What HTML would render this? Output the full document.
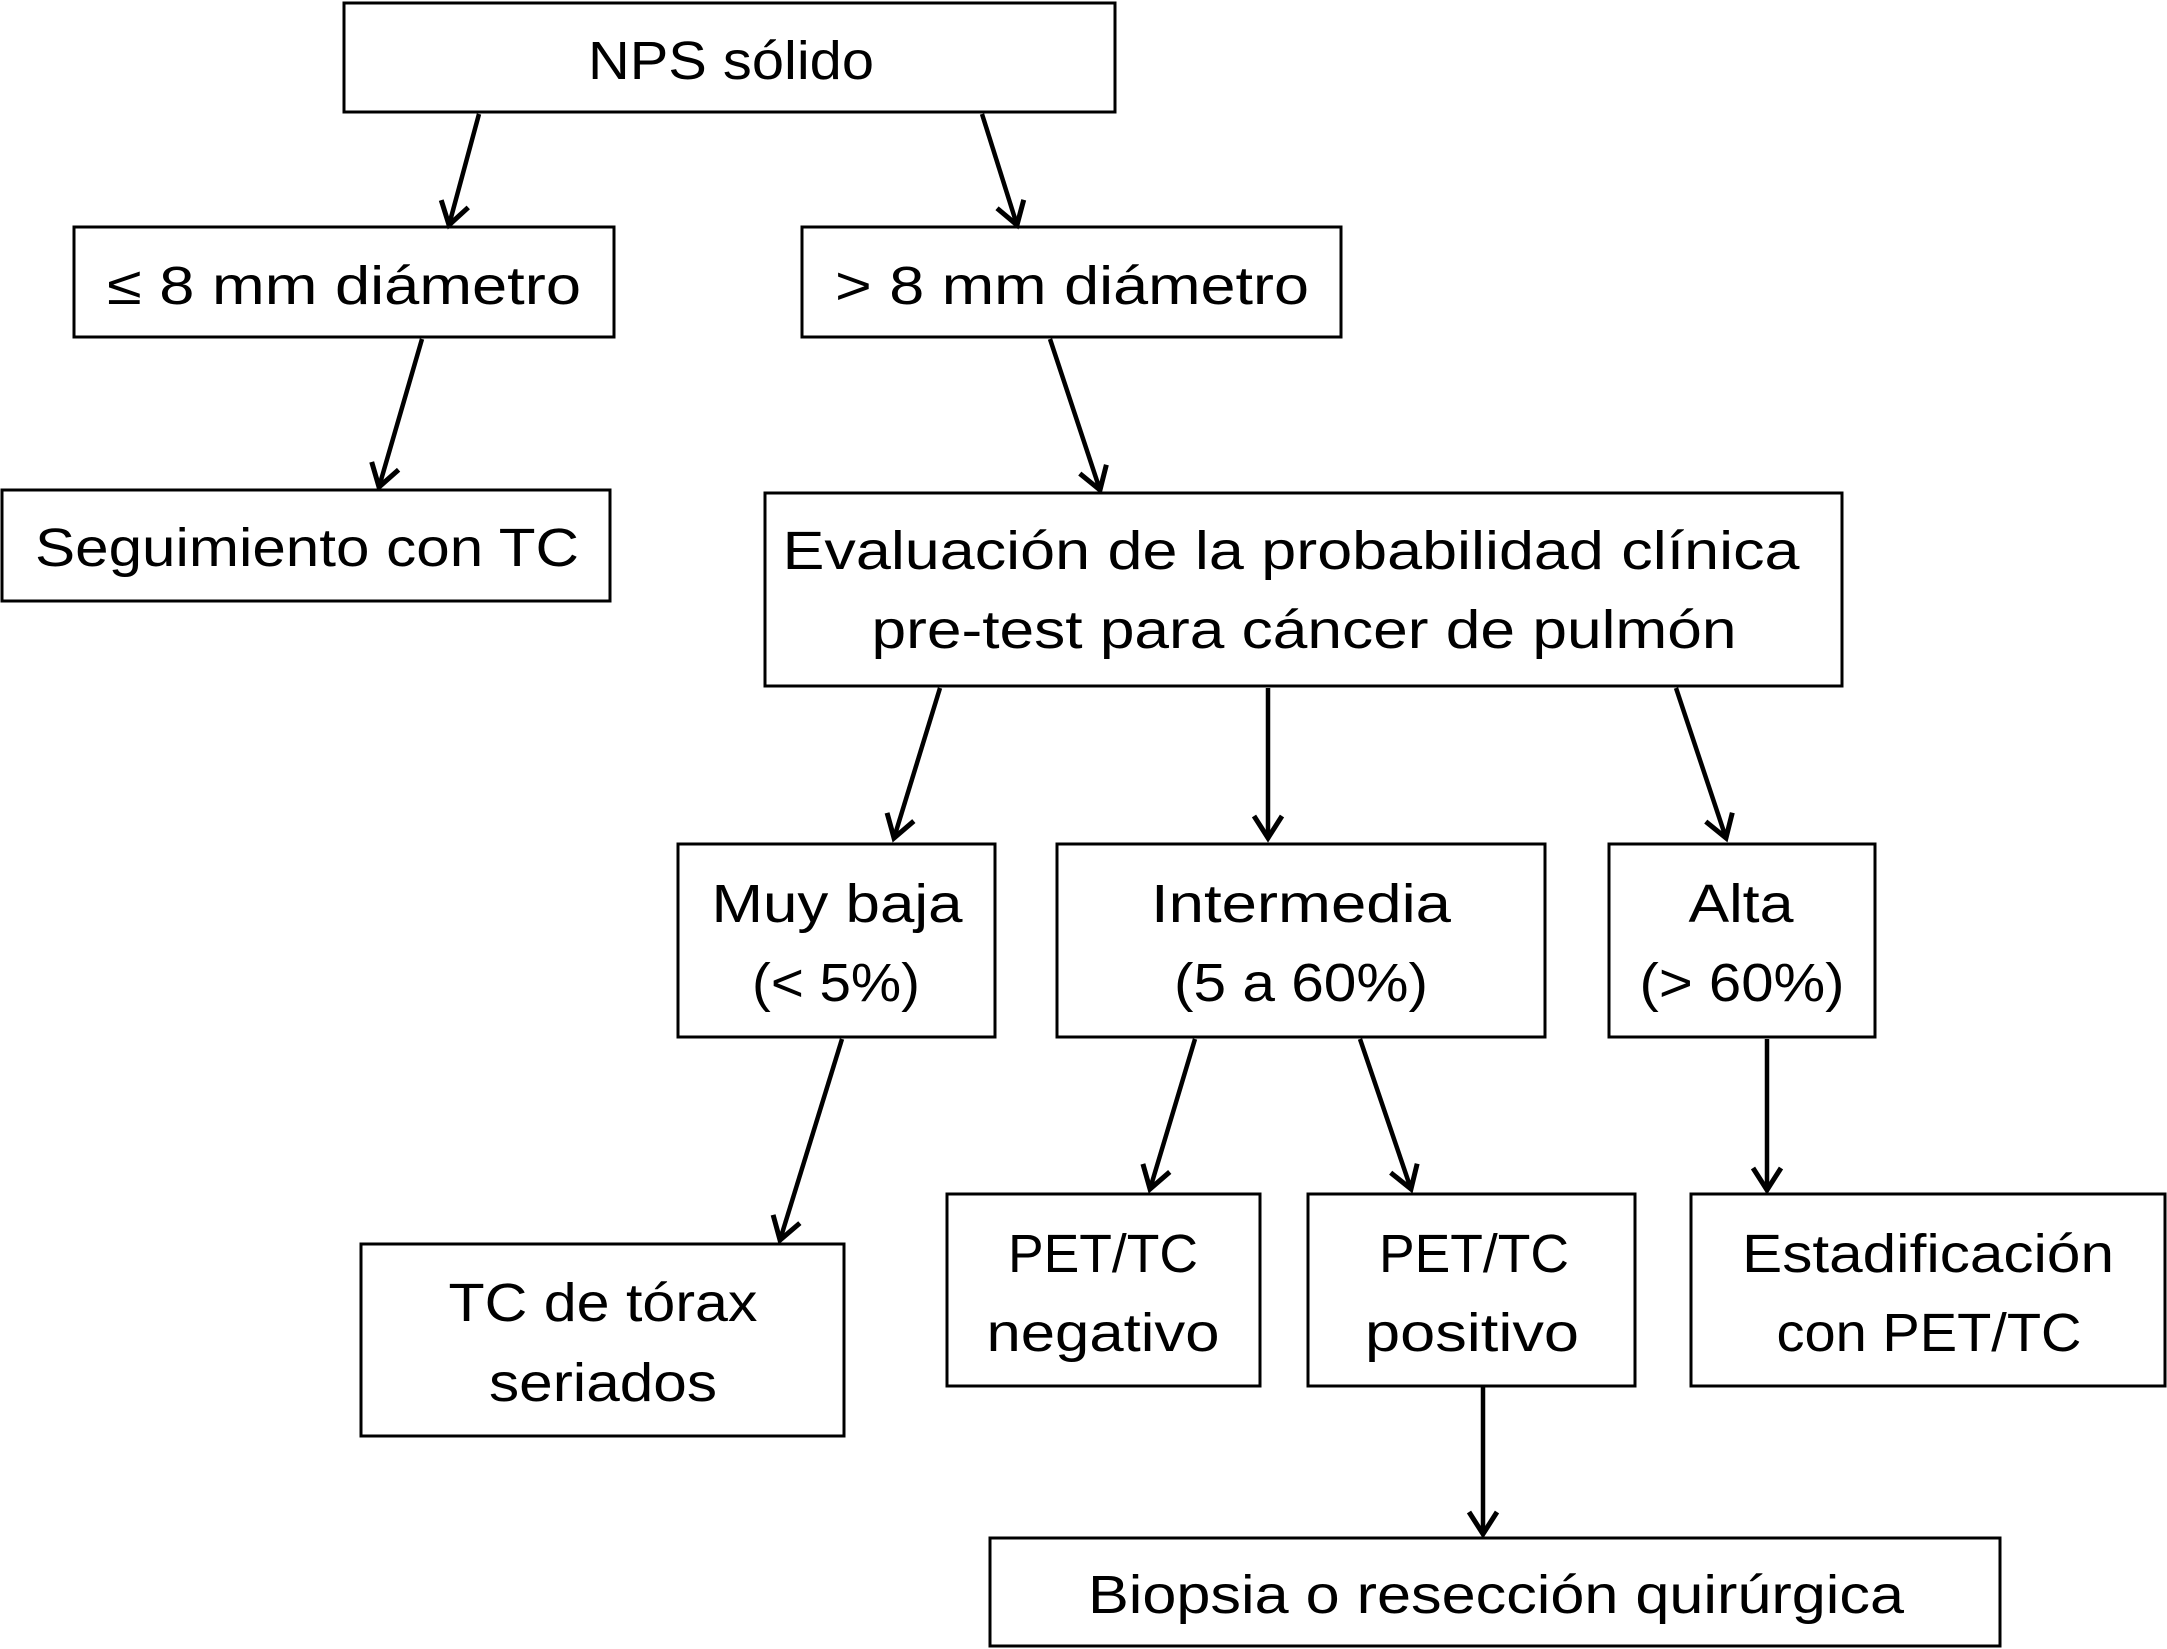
<!DOCTYPE html>
<html><head><meta charset="utf-8"><style>
html,body{margin:0;padding:0;background:#fff;}
svg{display:block;}
text{font-family:"Liberation Sans",sans-serif;font-size:54px;fill:#000;}
</style></head><body>
<svg width="2167" height="1649" viewBox="0 0 2167 1649" xmlns="http://www.w3.org/2000/svg">
<defs>
<marker id="a" markerUnits="userSpaceOnUse" markerWidth="40" markerHeight="40" refX="30" refY="20" orient="auto">
<polyline points="8,6 30,20 8,34" fill="none" stroke="#000" stroke-width="5" stroke-linejoin="miter"/>
</marker>
</defs>
<g fill="none" stroke="#000" stroke-width="3">
<rect x="344" y="3" width="771" height="109"/>
<rect x="74" y="227" width="540" height="110"/>
<rect x="802" y="227" width="539" height="110"/>
<rect x="2" y="490" width="608" height="111"/>
<rect x="765" y="493" width="1077" height="193"/>
<rect x="678" y="844" width="317" height="193"/>
<rect x="1057" y="844" width="488" height="193"/>
<rect x="1609" y="844" width="266" height="193"/>
<rect x="361" y="1244" width="483" height="192"/>
<rect x="947" y="1194" width="313" height="192"/>
<rect x="1308" y="1194" width="327" height="192"/>
<rect x="1691" y="1194" width="474" height="192"/>
<rect x="990" y="1538" width="1010" height="108"/>
</g>
<g stroke="#000" stroke-width="4.5" marker-end="url(#a)">
<line x1="479" y1="114" x2="449" y2="225"/>
<line x1="982" y1="114" x2="1017" y2="225"/>
<line x1="422" y1="339" x2="379" y2="487"/>
<line x1="1050" y1="339" x2="1100" y2="490"/>
<line x1="940" y1="688" x2="894" y2="838"/>
<line x1="1268" y1="688" x2="1268" y2="838"/>
<line x1="1676" y1="688" x2="1726" y2="838"/>
<line x1="842" y1="1039" x2="780" y2="1240"/>
<line x1="1195" y1="1039" x2="1150" y2="1189"/>
<line x1="1360" y1="1039" x2="1411" y2="1189"/>
<line x1="1767" y1="1039" x2="1767" y2="1190"/>
<line x1="1483" y1="1387" x2="1483" y2="1534"/>
</g>
<g text-anchor="middle">
<text x="731" y="79" textLength="286" lengthAdjust="spacingAndGlyphs">NPS sólido</text>
<text x="344" y="304" textLength="474" lengthAdjust="spacingAndGlyphs">≤ 8 mm diámetro</text>
<text x="1072" y="304" textLength="474" lengthAdjust="spacingAndGlyphs">&gt; 8 mm diámetro</text>
<text x="307" y="566" textLength="544" lengthAdjust="spacingAndGlyphs">Seguimiento con TC</text>
<text x="1291" y="569" textLength="1017" lengthAdjust="spacingAndGlyphs">Evaluación de la probabilidad clínica</text>
<text x="1304" y="648" textLength="865" lengthAdjust="spacingAndGlyphs">pre-test para cáncer de pulmón</text>
<text x="837" y="922" textLength="251" lengthAdjust="spacingAndGlyphs">Muy baja</text>
<text x="836" y="1001" textLength="168" lengthAdjust="spacingAndGlyphs">(&lt; 5%)</text>
<text x="1301" y="922" textLength="300" lengthAdjust="spacingAndGlyphs">Intermedia</text>
<text x="1301" y="1001" textLength="254" lengthAdjust="spacingAndGlyphs">(5 a 60%)</text>
<text x="1741" y="922" textLength="105" lengthAdjust="spacingAndGlyphs">Alta</text>
<text x="1742" y="1001" textLength="205" lengthAdjust="spacingAndGlyphs">(&gt; 60%)</text>
<text x="603" y="1321" textLength="309" lengthAdjust="spacingAndGlyphs">TC de tórax</text>
<text x="603" y="1401" textLength="228" lengthAdjust="spacingAndGlyphs">seriados</text>
<text x="1103" y="1272" textLength="190" lengthAdjust="spacingAndGlyphs">PET/TC</text>
<text x="1103" y="1351" textLength="233" lengthAdjust="spacingAndGlyphs">negativo</text>
<text x="1474" y="1272" textLength="190" lengthAdjust="spacingAndGlyphs">PET/TC</text>
<text x="1472" y="1351" textLength="214" lengthAdjust="spacingAndGlyphs">positivo</text>
<text x="1928" y="1272" textLength="372" lengthAdjust="spacingAndGlyphs">Estadificación</text>
<text x="1929" y="1351" textLength="305" lengthAdjust="spacingAndGlyphs">con PET/TC</text>
<text x="1496" y="1613" textLength="816" lengthAdjust="spacingAndGlyphs">Biopsia o resección quirúrgica</text>
</g>
</svg>
</body></html>
